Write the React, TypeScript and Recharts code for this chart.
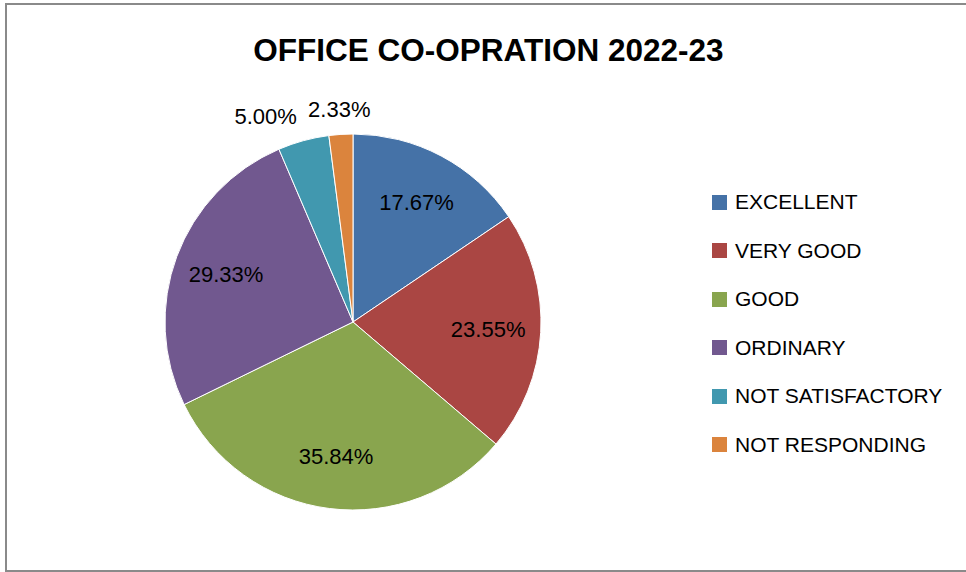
import React from "react";
import { PieChart, Pie, Cell, Legend } from "recharts";

const categories = ["EXCELLENT", "VERY GOOD", "GOOD", "ORDINARY", "NOT SATISFACTORY", "NOT RESPONDING"];
const values = [17.67, 23.55, 35.84, 29.33, 5.0, 2.33];
const colors = ["#4572A7", "#AA4643", "#89A54E", "#71588F", "#4198AF", "#DB843D"];
const title = "OFFICE CO-OPRATION 2022-23";

const data = categories.map((name, i) => ({ name, value: values[i] }));

const FONT = "'Liberation Sans', Arial, sans-serif";
const RAD = Math.PI / 180;

const renderLabel = (props: any) => {
  const { cx, cy, midAngle, outerRadius, index, value } = props;
  const outside = value < 10;
  const r = outside ? outerRadius + 25 : outerRadius * 0.72;
  const x = cx + r * Math.cos(-midAngle * RAD);
  const y = cy + r * Math.sin(-midAngle * RAD);
  const anchor = outside ? (index === 4 ? "end" : "middle") : "middle";
  return (
    <text
      x={x}
      y={y}
      textAnchor={anchor}
      dominantBaseline="central"
      fill="#000"
      fontSize={22}
      fontFamily={FONT}
    >
      {value.toFixed(2)}%
    </text>
  );
};

const LegendContent = () => (
  <div style={{ fontFamily: FONT, fontSize: 21, color: "#000", textAlign: "left" }}>
    {categories.map((c, i) => (
      <div key={c} style={{ display: "flex", alignItems: "center", height: 48.5 }}>
        <span style={{ display: "inline-block", width: 15, height: 15, background: colors[i], marginRight: 8 }} />
        <span>{c}</span>
      </div>
    ))}
  </div>
);

export default function App() {
  return (
    <div style={{ position: "absolute", left: 0, top: 0, width: 966, height: 572, background: "#fff", overflow: "hidden" }}>
      <div
        style={{
          position: "absolute",
          left: 5,
          top: 3,
          width: 980,
          height: 565,
          border: "2px solid #8a8a8a",
        }}
      />
      <div
        style={{
          position: "absolute",
          left: 0,
          width: 977,
          top: 30,
          textAlign: "center",
          fontFamily: FONT,
          fontWeight: "bold",
          fontSize: 31.5,
          color: "#000",
          lineHeight: "40px",
        }}
      >
        {title}
      </div>
      <div style={{ position: "absolute", left: 0, top: 0 }}>
        <PieChart width={966} height={572} margin={{ top: 0, right: 0, bottom: 0, left: 0 }}>
          <Pie
            data={data}
            dataKey="value"
            nameKey="name"
            cx={353}
            cy={322}
            outerRadius={188}
            startAngle={90}
            endAngle={-270}
            stroke="#ffffff"
            strokeWidth={1}
            label={renderLabel}
            labelLine={false}
            isAnimationActive={false}
          >
            {data.map((d, i) => (
              <Cell key={d.name} fill={colors[i]} />
            ))}
          </Pie>
          <Legend
            layout="vertical"
            align="right"
            verticalAlign="top"
            content={<LegendContent />}
            wrapperStyle={{ left: 712, top: 178, width: 250 }}
          />
        </PieChart>
      </div>
    </div>
  );
}
